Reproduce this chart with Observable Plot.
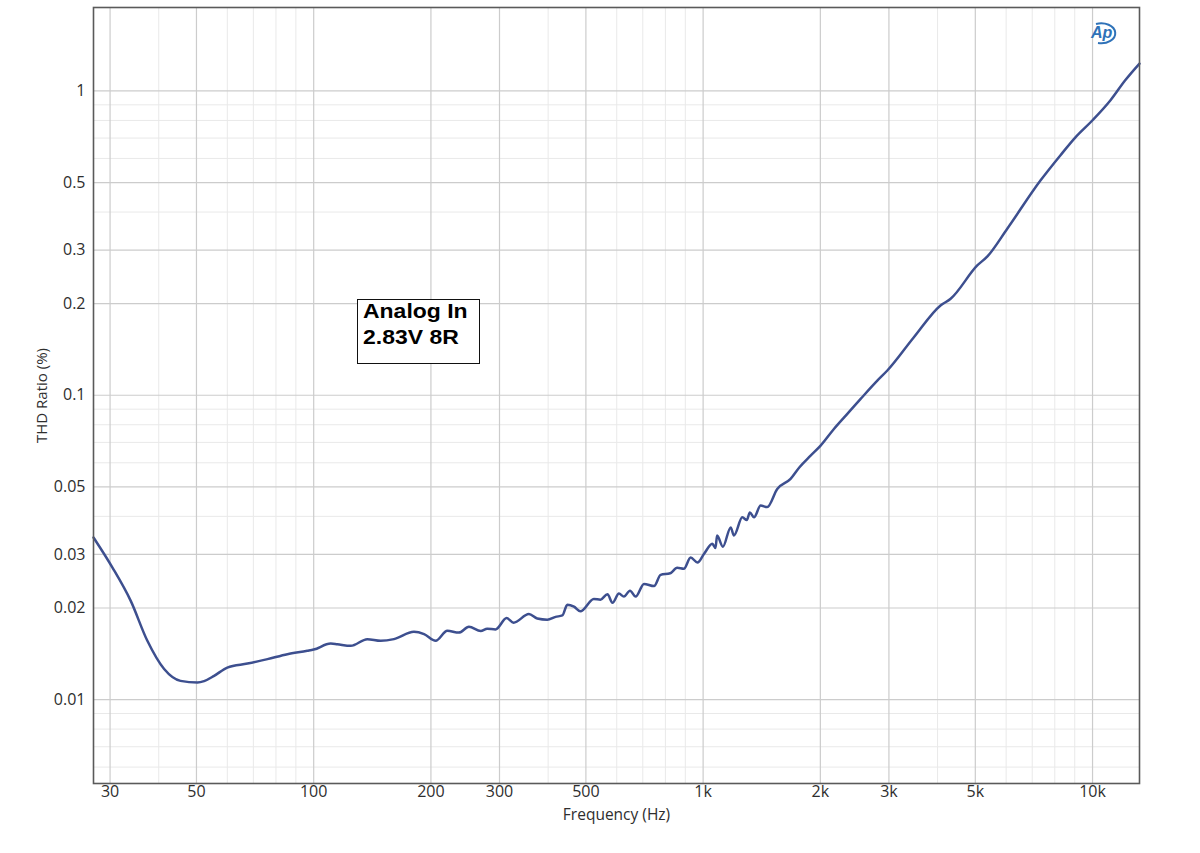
<!DOCTYPE html>
<html><head><meta charset="utf-8">
<script src="https://cdn.jsdelivr.net/npm/d3@7"></script>
<script src="https://cdn.jsdelivr.net/npm/@observablehq/plot@0.6"></script>
<style>
body{margin:0;background:#fff;}
#wrap{position:relative;width:1200px;height:853px;overflow:hidden;}
.note{position:absolute;left:357px;top:299px;width:123px;height:65px;border:1.5px solid #111;box-sizing:border-box;
 font:bold 20.5px "Liberation Sans",Arial,sans-serif;line-height:25.7px;padding:0 0 0 5px;background:#fff;color:#000;}
.note span{display:inline-block;transform:scaleX(1.12);transform-origin:left center;white-space:nowrap;}
.note .inner{margin-top:-2px;}
.logo{position:absolute;left:1088px;top:18px;}
</style></head>
<body><div id="wrap"></div>
<script>
// Frequency (Hz)
const freq = [27.2, 30.4, 33.9, 37.4, 41.3, 45.5, 50.3, 52.3, 55.5, 60.0, 67.6, 76.1, 85.6, 96.3, 100, 110.6, 115, 124.5, 137.3,
  148.6, 160.7, 180.9, 192.1, 205.7, 220.4, 235.9, 250.4, 268.5, 279, 293, 313, 326, 357, 375, 398, 418, 435, 448, 466, 484,
  524, 545, 568, 585, 608, 626, 649, 671, 705, 748, 778, 823, 858, 892, 929, 967, 1005, 1056, 1076, 1086, 1124, 1177, 1200,
  1261, 1295, 1318, 1351, 1405, 1461, 1550, 1677, 1768, 1888, 2003, 2167, 2346, 2538, 2801, 2972, 3477, 4070, 4321, 5058,
  5371, 6039, 7356, 8274, 9038, 10000, 11120, 12130, 13200];
// THD ratio (%)
const thd = [0.0341, 0.0272, 0.0211, 0.0156, 0.0126, 0.01152, 0.01138, 0.0115, 0.01197, 0.01274, 0.01313, 0.01358, 0.0141, 0.01446, 0.0146, 0.01528, 0.0152, 0.01502, 0.0158,
  0.0156, 0.0158, 0.0167, 0.01641, 0.0156, 0.01683, 0.0166, 0.01735, 0.0168, 0.0171, 0.0170, 0.01853, 0.0179, 0.0191, 0.01846, 0.0183, 0.0187, 0.0189, 0.0205, 0.0202, 0.0195,
  0.0214, 0.0213, 0.0222, 0.0208, 0.0223, 0.0218, 0.0228, 0.0218, 0.0240, 0.0236, 0.0257, 0.0260, 0.0271, 0.0269, 0.0293, 0.0282, 0.0301, 0.0325, 0.0315, 0.0346, 0.0318, 0.0368, 0.0346,
  0.0397, 0.0389, 0.0412, 0.0397, 0.0434, 0.0429, 0.0492, 0.0531, 0.0580, 0.0633, 0.0683, 0.0775, 0.0869, 0.0973, 0.1117, 0.1206, 0.1551, 0.1972, 0.2075, 0.267,
  0.286, 0.3527, 0.5085, 0.615, 0.704, 0.801, 0.932, 1.084, 1.23];

const xTicks = [30, 50, 100, 200, 300, 500, 1000, 2000, 3000, 5000, 10000];
const xTickLabels = ["30", "50", "100", "200", "300", "500", "1k", "2k", "3k", "5k", "10k"];
const xMinor = [40, 60, 70, 80, 90, 400, 600, 700, 800, 900, 4000, 6000, 7000, 8000, 9000];
const yTicks = [0.01, 0.02, 0.03, 0.05, 0.1, 0.2, 0.3, 0.5, 1];
const yTickLabels = ["0.01", "0.02", "0.03", "0.05", "0.1", "0.2", "0.3", "0.5", "1"];
const yMinor = [0.006, 0.007, 0.008, 0.009, 0.04, 0.06, 0.07, 0.08, 0.09, 0.4, 0.6, 0.7, 0.8, 0.9];
const xLabel = "Frequency (Hz)";
const yLabel = "THD Ratio (%)";
const noteLines = ["Analog In", "2.83V 8R"];

const data = freq.map((f, i) => ({f, v: thd[i]}));
const labelColor = "#2e2e2e";

const plot = Plot.plot({
  width: 1200, height: 853,
  marginLeft: 93, marginRight: 61, marginTop: 7, marginBottom: 70,
  style: {fontFamily: "'Open Sans', sans-serif", fontSize: "16px", color: labelColor, background: "#fff"},
  x: {type: "log", domain: [27.2, 13200], axis: null},
  y: {type: "log", domain: [0.0053, 1.88], axis: null},
  marks: [
    Plot.ruleX(xMinor, {stroke: "#e9e9e9", strokeWidth: 1}),
    Plot.ruleY(yMinor, {stroke: "#e9e9e9", strokeWidth: 1}),
    Plot.ruleX(xTicks, {stroke: "#cccccc", strokeWidth: 1.2}),
    Plot.ruleY(yTicks, {stroke: "#cccccc", strokeWidth: 1.2}),
    Plot.text(xTicks, {x: d => d, frameAnchor: "bottom", text: (d, i) => xTickLabels[i], dy: 13, textAnchor: "middle", fontSize: 16, fill: labelColor}),
    Plot.text(yTicks, {y: d => d, frameAnchor: "left", text: (d, i) => yTickLabels[i], dx: -8, textAnchor: "end", fontSize: 16, fill: labelColor}),
    Plot.text([xLabel], {frameAnchor: "bottom", dy: 36, textAnchor: "middle", fontSize: 15.5, fill: labelColor}),
    Plot.text([yLabel], {frameAnchor: "left", dx: -51, rotate: -90, textAnchor: "middle", fontSize: 15, fill: labelColor}),
    Plot.line(data, {x: "f", y: "v", stroke: "#3d4f8f", strokeWidth: 2.5, curve: "monotone-x"}),
    Plot.frame({stroke: "#5a5a5a", strokeWidth: 1.6})
  ]
});
const wrap = document.getElementById("wrap");
wrap.appendChild(plot);

const note = document.createElement("div");
note.className = "note";
note.innerHTML = `<div class="inner">${noteLines.map(t => `<span>${t}</span>`).join("<br>")}</div>`;
wrap.appendChild(note);

const logo = document.createElement("div");
logo.className = "logo";
logo.innerHTML = `<svg width="40" height="30" viewBox="0 0 40 30">
<path d="M8 6 A14 10 0 1 1 10 25" fill="none" stroke="#2f72b8" stroke-width="2"/>
<text x="3" y="20" font-family="'Liberation Sans',Arial,sans-serif" font-style="italic" font-weight="bold" font-size="16" fill="#2f72b8">Ap</text>
</svg>`;
wrap.appendChild(logo);
</script>
</body></html>
